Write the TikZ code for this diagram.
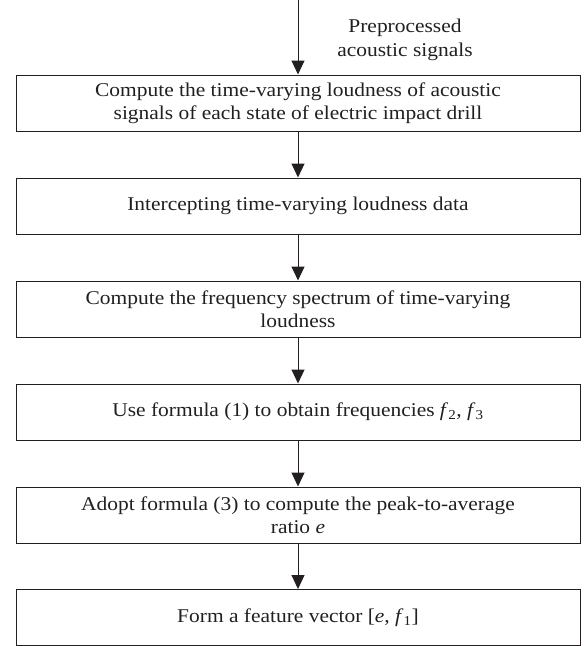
\documentclass[tikz,border=0pt]{standalone}
\usepackage{fontspec}
\setmainfont[FakeStretch=1.1]{Liberation Serif}
\usetikzlibrary{arrows.meta}
\definecolor{ink}{HTML}{231F20}
\tikzset{
  stepbox/.style={draw=ink, line width=1pt, minimum width=564pt, minimum height=56pt,
    inner sep=0pt, align=center, text=ink, font=\fontsize{19.5}{23.5}\selectfont},
  flow/.style={draw=ink, line width=1pt, -{Triangle[length=14pt,width=13pt]}},
  lbl/.style={align=center, text=ink, font=\fontsize{19.5}{24.5}\selectfont, inner sep=0pt}
}
\begin{document}
\begin{tikzpicture}[x=1pt,y=-1pt]
\useasboundingbox (0,0) rectangle (587,646);
\coordinate (start) at (298,0);
\node[stepbox] (b1) at (298,103) {Compute the time-varying loudness of acoustic\\signals of each state of electric impact drill};
\node[stepbox] (b2) at (298,206) {Intercepting time-varying loudness data};
\node[stepbox] (b3) at (298,309) {Compute the frequency spectrum of time-varying\\loudness};
\node[stepbox] (b4) at (298,412) {Use formula (1) to obtain frequencies \textit{f}\textsubscript{2}, \textit{f}\textsubscript{3}};
\node[stepbox] (b5) at (298,515) {Adopt formula (3) to compute the peak-to-average\\ratio \textit{e}};
\node[stepbox] (b6) at (298,617.5) {Form a feature vector [\textit{e}, \textit{f}\textsubscript{1}]};
\node[lbl] (in) at (405,40) {Preprocessed\\acoustic signals};
\draw[flow] (start) -- (b1.north);
\draw[flow] (b1) -- (b2);
\draw[flow] (b2) -- (b3);
\draw[flow] (b3) -- (b4);
\draw[flow] (b4) -- (b5);
\draw[flow] (b5) -- (b6);
\end{tikzpicture}
\end{document}
